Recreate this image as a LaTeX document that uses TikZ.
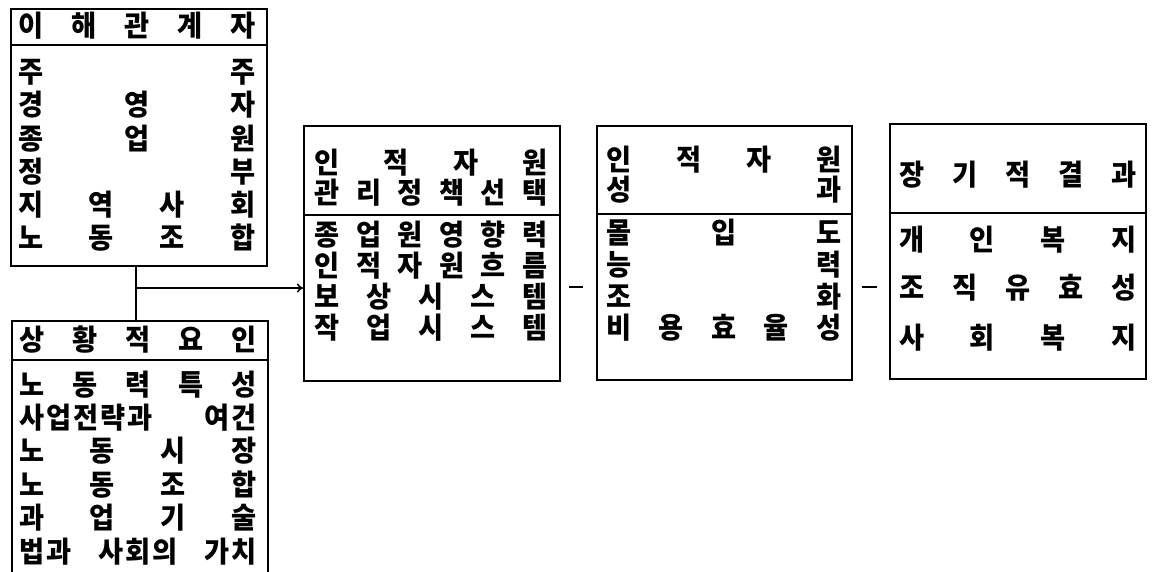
\documentclass[tikz,border=0pt]{standalone}
\usepackage{fontspec}
\newfontfamily\kr{Noto Sans CJK KR}[FakeStretch=0.94]
\usetikzlibrary{arrows.meta}
\tikzset{
  box/.style={draw, line width=1.6pt, inner sep=0pt, anchor=north west},
  divline/.style={line width=1.6pt},
  link/.style={line width=1.6pt},
  dashmark/.style={line width=2.6pt},
  txt/.style={inner sep=0pt, text height=23.5pt, text depth=2pt,
    font=\kr\bfseries\fontsize{29}{29}\selectfont},
}
\newcommand\spr[2]{\makebox[#1pt]{#2}}
\newcommand\tk{\kern2pt}
\begin{document}
\begin{tikzpicture}[x=1pt,y=-1pt]
\useasboundingbox (0,0) rectangle (1153,571);
% boxes
\node[box, minimum width=256pt, minimum height=257pt] (ltop) at (10,8) {};
\node[box, minimum width=256pt, minimum height=280pt] (lbot) at (11,320) {};
\node[box, minimum width=256pt, minimum height=255pt] (b1) at (303,125) {};
\node[box, minimum width=255pt, minimum height=254pt] (b2) at (596,125) {};
\node[box, minimum width=256pt, minimum height=255pt] (b3) at (889,123) {};
% dividers
\draw[divline] (ltop.west |- 0,45) -- (ltop.east |- 0,45);
\draw[divline] (lbot.west |- 0,360) -- (lbot.east |- 0,360);
\draw[divline] (b1.west |- 0,215) -- (b1.east |- 0,215);
\draw[divline] (b2.west |- 0,214) -- (b2.east |- 0,214);
\draw[divline] (b3.west |- 0,213) -- (b3.east |- 0,213);
% stakeholders
\node[txt] (a0) at (137,26) {\spr{238}{이\hfill 해\hfill 관\hfill 계\hfill 자}};
\node[txt] (a1) at (137,72) {\spr{238}{주\hfill 주}};
\node[txt] (a2) at (137,105) {\spr{238}{경\hfill 영\hfill 자}};
\node[txt] (a3) at (137,139) {\spr{238}{종\hfill 업\hfill 원}};
\node[txt] (a4) at (137,172) {\spr{238}{정\hfill 부}};
\node[txt] (a5) at (137,205) {\spr{238}{지\hfill 역\hfill 사\hfill 회}};
\node[txt] (a6) at (137,238) {\spr{238}{노\hfill 동\hfill 조\hfill 합}};
% situational factors
\node[txt] (s0) at (138,340) {\spr{238}{상\hfill 황\hfill 적\hfill 요\hfill 인}};
\node[txt] (s1) at (138,385) {\spr{238}{노\hfill 동\hfill 력\hfill 특\hfill 성}};
\node[txt] (s2) at (138,418) {\spr{238}{사\tk 업\tk 전\tk 략\tk 과\hfill 여\tk 건}};
\node[txt] (s3) at (138,451) {\spr{238}{노\hfill 동\hfill 시\hfill 장}};
\node[txt] (s4) at (138,485) {\spr{238}{노\hfill 동\hfill 조\hfill 합}};
\node[txt] (s5) at (138,518) {\spr{238}{과\hfill 업\hfill 기\hfill 술}};
\node[txt] (s6) at (138,552) {\spr{238}{법\tk 과\hfill 사\tk 회\tk 의\hfill 가\tk 치}};
% HRM policy choices
\node[txt] (p0) at (431,163) {\spr{233}{인\hfill 적\hfill 자\hfill 원}};
\node[txt] (p1) at (431,193) {\spr{233}{관\hfill 리\hfill 정\hfill 책\hfill 선\hfill 택}};
\node[txt] (p2) at (431,235) {\spr{233}{종\hfill 업\hfill 원\hfill 영\hfill 향\hfill 력}};
\node[txt] (p3) at (431,266) {\spr{233}{인\hfill 적\hfill 자\hfill 원\hfill 흐\hfill 름}};
\node[txt] (p4) at (431,297) {\spr{233}{보\hfill 상\hfill 시\hfill 스\hfill 템}};
\node[txt] (p5) at (431,328) {\spr{233}{작\hfill 업\hfill 시\hfill 스\hfill 템}};
% HR outcomes
\node[txt] (o0) at (724,160) {\spr{235}{인\hfill 적\hfill 자\hfill 원}};
\node[txt] (o1) at (724,190) {\spr{235}{성\hfill 과}};
\node[txt] (o2) at (724,233) {\spr{235}{몰\hfill 입\hfill 도}};
\node[txt] (o3) at (724,265) {\spr{235}{능\hfill 력}};
\node[txt] (o4) at (724,297) {\spr{235}{조\hfill 화}};
\node[txt] (o5) at (724,328) {\spr{235}{비\hfill 용\hfill 효\hfill 율\hfill 성}};
% long-term consequences
\node[txt] (l0) at (1018,175) {\spr{238}{장\hfill 기\hfill 적\hfill 결\hfill 과}};
\node[txt] (l1) at (1018,240) {\spr{238}{개\hfill 인\hfill 복\hfill 지}};
\node[txt] (l2) at (1018,288) {\spr{238}{조\hfill 직\hfill 유\hfill 효\hfill 성}};
\node[txt] (l3) at (1018,338) {\spr{238}{사\hfill 회\hfill 복\hfill 지}};
% connectors
\coordinate (j) at (136,288);
\draw[link] (ltop.south -| j) -- (lbot.north -| j);
\draw[link, -{To[length=6pt,width=9pt]}] (j) -- (b1.west |- j);
\coordinate (d1a) at (569,287);
\coordinate (d1b) at (583,287);
\coordinate (d2a) at (862,287);
\coordinate (d2b) at (877,287);
\draw[dashmark] (d1a) -- (d1b);
\draw[dashmark] (d2a) -- (d2b);
\end{tikzpicture}
\end{document}
